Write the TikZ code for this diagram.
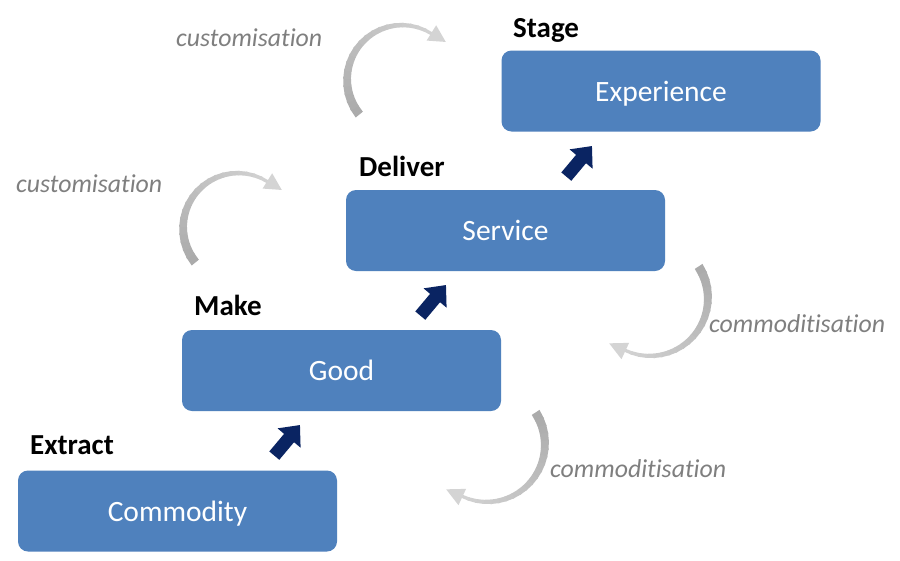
\documentclass[tikz,border=0pt]{standalone}
\usepackage{fontspec}
\setmainfont{Carlito}[Ligatures=NoCommon]
\usetikzlibrary{arrows.meta,calc}
\definecolor{boxblue}{HTML}{4F81BD}
\definecolor{navyarrow}{HTML}{0A2462}
\definecolor{labelgray}{HTML}{7F7F7F}
\definecolor{arcdark}{HTML}{ABABAB}
\definecolor{arclight}{HTML}{D4D4D4}
\newcommand\cyclearrow[5]{%
  \foreach \i in {0,...,19}{%
    \pgfmathsetmacro\aa{#4+(#5-#4)*\i/20}%
    \pgfmathsetmacro\ab{#4+(#5-#4)*(\i+1.2)/20}%
    \pgfmathsetmacro\wa{4.6-3*\i/20}%
    \pgfmathsetmacro\wb{4.6-3*(\i+1)/20}%
    \pgfmathtruncatemacro\mx{100-\i*5}%
    \fill[arcdark!\mx!arclight]
      ({#1+(#3+\wa)*cos(\aa)},{#2+(#3+\wa)*sin(\aa)}) --
      ({#1+(#3+\wb)*cos(\ab)},{#2+(#3+\wb)*sin(\ab)}) --
      ({#1+(#3-\wb)*cos(\ab)},{#2+(#3-\wb)*sin(\ab)}) --
      ({#1+(#3-\wa)*cos(\aa)},{#2+(#3-\wa)*sin(\aa)}) -- cycle;
  }%
  \pgfmathsetmacro\tp{#5+17*sign(#5-#4)}%
  \fill[arclight]
    ({#1+(#3+9.5)*cos(#5)},{#2+(#3+9.5)*sin(#5)}) --
    ({#1+(#3+3)*cos(\tp)},{#2+(#3+3)*sin(\tp)}) --
    ({#1+(#3-8.5)*cos(#5)},{#2+(#3-8.5)*sin(#5)}) -- cycle;
}
\begin{document}
\begin{tikzpicture}[x=1pt,y=-1pt,
  stagebox/.style={fill=boxblue, rounded corners=10pt, minimum width=319pt,
    minimum height=81pt, inner sep=0pt, text=white, text height=20pt, text depth=0pt,
    font=\fontsize{29.5}{31}\selectfont},
  steplabel/.style={anchor=base west, inner sep=0pt, font=\bfseries\fontsize{29}{31}\selectfont},
  cyclelabel/.style={anchor=base west, inner sep=0pt, text=labelgray, font=\itshape\fontsize{25.8}{27}\selectfont},
  uparrow/.style={draw=navyarrow, line width=13pt, -{Triangle[width=29pt,length=17pt]}}]
\useasboundingbox (0,0) rectangle (900,560);
\fill[white] (0,0) rectangle (900,560);

% boxes
\node[stagebox] (commodity) at (177.5,511) {Commodity};
\node[stagebox] (good) at (341.5,370.5) {Good};
\node[stagebox] (service) at (505.5,230.5) {Service};
\node[stagebox] (experience) at (661,91) {Experience};

% step labels
\node[steplabel] (extract) at (30,454) {Extract};
\node[steplabel] (make) at (194,315) {Make};
\node[steplabel] (deliver) at (359,176) {Deliver};
\node[steplabel] (stage) at (513,37) {Stage};

% cycle labels
\node[cyclelabel] (cust1) at (176,46) {customisation};
\node[cyclelabel] (cust2) at (16,192) {customisation};
\node[cyclelabel] (comm1) at (709,332) {commoditisation};
\node[cyclelabel] (comm2) at (550,477) {commoditisation};

% cycle arrows
\cyclearrow{402}{80}{55}{141}{302}
\cyclearrow{238}{228}{55}{141}{302}
\cyclearrow{650}{298}{58}{-33}{115}
\cyclearrow{487}{444}{58}{-33}{115}

% progression arrows
\coordinate (t1) at (274.3,455.6);
\coordinate (h1) at (300,425);
\coordinate (t2) at (420.3,315.6);
\coordinate (h2) at (446,285);
\coordinate (t3) at (566.3,176.6);
\coordinate (h3) at (592,146);
\draw[uparrow] (t1) -- (h1);
\draw[uparrow] (t2) -- (h2);
\draw[uparrow] (t3) -- (h3);
\end{tikzpicture}
\end{document}
